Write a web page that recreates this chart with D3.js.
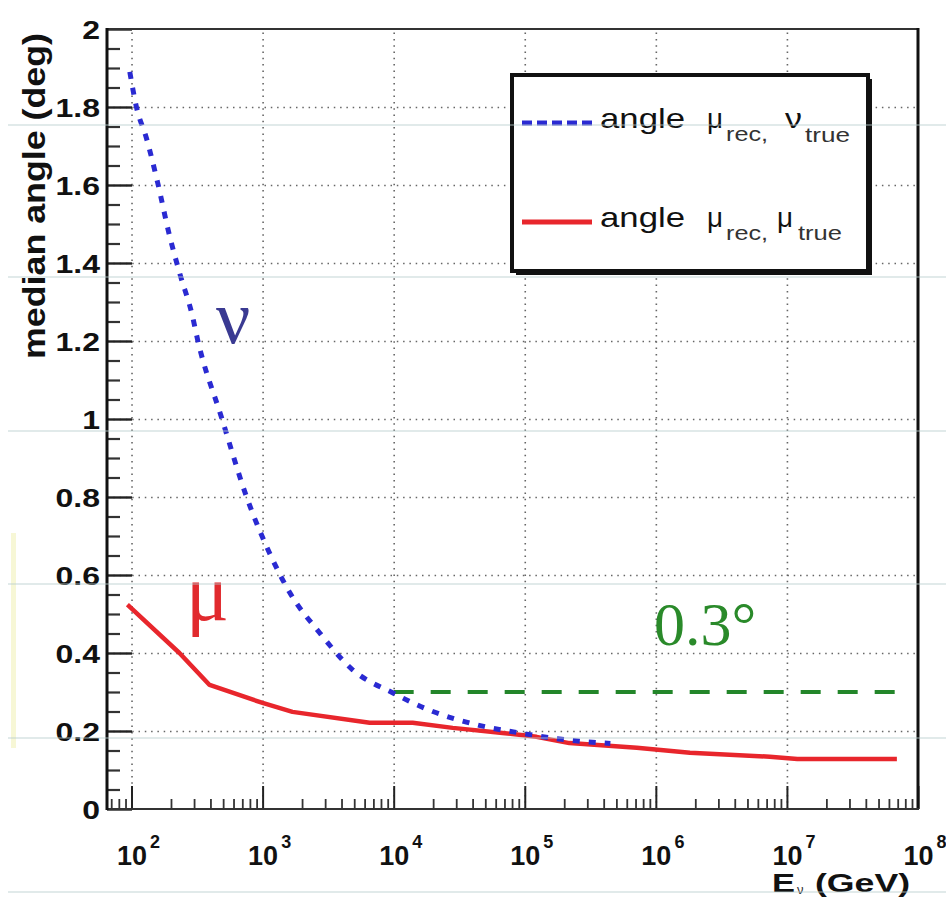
<!DOCTYPE html>
<html>
<head>
<meta charset="utf-8">
<script src="https://cdn.jsdelivr.net/npm/d3@7"></script>
<style>
  html, body { margin: 0; padding: 0; background: #ffffff; }
  svg { display: block; }
</style>
</head>
<body>
<svg id="chart" width="946" height="899"></svg>
<script>
// Median reconstructed angle vs neutrino energy
// nu curve: angle between reconstructed muon and true neutrino
const nuEnergy = [97, 109, 130, 158, 195, 232, 292, 319, 486, 755, 1190, 1610, 2720, 4860, 9800, 19900, 43000, 91600, 200000, 450000];
const nuAngle  = [1.89, 1.80, 1.72, 1.607, 1.47, 1.376, 1.263, 1.204, 1.004, 0.80, 0.64, 0.555, 0.452, 0.357, 0.298, 0.25, 0.216, 0.195, 0.178, 0.168];
// mu curve: angle between reconstructed muon and true muon
const muEnergy = [93, 232, 394, 1000, 1690, 6560, 13960, 28200, 67600, 123000, 219000, 716000, 1820000, 7400000, 12000000, 69000000];
const muAngle  = [0.524, 0.40, 0.318, 0.272, 0.249, 0.221, 0.221, 0.208, 0.195, 0.185, 0.169, 0.157, 0.144, 0.134, 0.128, 0.128];
// 0.3 degree reference level
const refEnergy = [10000, 77000000];
const refAngle  = [0.3, 0.3];

const xDecades = [2, 3, 4, 5, 6, 7, 8];
const yTickValues = [0, 0.2, 0.4, 0.6, 0.8, 1, 1.2, 1.4, 1.6, 1.8, 2];
const yTickLabels = ["0", "0.2", "0.4", "0.6", "0.8", "1", "1.2", "1.4", "1.6", "1.8", "2"];
const yGridValues = [0.2, 0.4, 0.6, 0.8, 1, 1.2, 1.4, 1.6, 1.8];

const svg = d3.select("#chart");
const frame = { left: 107, right: 918, top: 29, bottom: 809 };

const x = d3.scaleLog().domain([65, 1e8]).range([frame.left, frame.right]);
const y = d3.scaleLinear().domain([0, 2]).range([frame.bottom, frame.top]);

const bold = "'Liberation Sans', Arial, Helvetica, sans-serif";
const serif = "'Liberation Serif', 'Times New Roman', serif";

// faint yellow strip on the left margin
svg.append("rect").attr("x", 11).attr("y", 533).attr("width", 5).attr("height", 215)
  .attr("fill", "#f7f7d6");

// ---- dotted grid ----
const decadeVals = xDecades.slice(0, 6).map(e => Math.pow(10, e));
svg.append("g")
  .attr("transform", `translate(0,${frame.bottom})`)
  .call(d3.axisBottom(x).tickValues(decadeVals).tickSize(-(frame.bottom - frame.top)).tickFormat(""))
  .call(g => g.select(".domain").remove())
  .call(g => g.selectAll("line").attr("stroke", "#666").attr("stroke-width", 1.6).attr("stroke-dasharray", "1.5,4.8"));

svg.append("g")
  .attr("transform", `translate(${frame.left},0)`)
  .call(d3.axisLeft(y).tickValues(yGridValues).tickSize(-(frame.right - frame.left)).tickFormat(""))
  .call(g => g.select(".domain").remove())
  .call(g => g.selectAll("line").attr("stroke", "#666").attr("stroke-width", 1.6).attr("stroke-dasharray", "1.5,4.8"));

// ---- curves ----
const line = d3.line().x(d => x(d[0])).y(d => y(d[1])).curve(d3.curveLinear);

svg.append("path")
  .datum(d3.zip(refEnergy, refAngle))
  .attr("d", line)
  .attr("fill", "none").attr("stroke", "#23862a").attr("stroke-width", 4)
  .attr("stroke-dasharray", "20,17");

svg.append("path")
  .datum(d3.zip(muEnergy, muAngle))
  .attr("d", line)
  .attr("fill", "none").attr("stroke", "#e8262c").attr("stroke-width", 4.5)
  .attr("stroke-linejoin", "round");

svg.append("path")
  .datum(d3.zip(nuEnergy, nuAngle))
  .attr("d", d3.line().x(d => x(d[0])).y(d => y(d[1])).curve(d3.curveMonotoneX))
  .attr("fill", "none").attr("stroke", "#2a2ad2").attr("stroke-width", 5)
  .attr("stroke-dasharray", "7,9");

// ---- annotations ----
svg.append("text").attr("x", 216).attr("y", 343)
  .attr("font-family", serif).attr("font-size", 76).attr("fill", "#3a3a92")
  .text("ν");
svg.append("text").attr("x", 186).attr("y", 620)
  .attr("font-family", serif).attr("font-size", 80).attr("fill", "#e12a2e")
  .text("μ");
svg.append("text").attr("x", 654).attr("y", 645)
  .attr("font-family", serif).attr("font-size", 62).attr("fill", "#2a8a2a")
  .text("0.3°");

// ---- axes ----
// y axis: inward ticks, major every 0.2, minor every 0.05
const yMinor = d3.range(0, 2.0001, 0.05).filter(v => Math.abs(v * 5 - Math.round(v * 5)) > 1e-6);
svg.append("g")
  .attr("transform", `translate(${frame.left},0)`)
  .call(d3.axisLeft(y).tickValues(yMinor).tickSize(-13).tickFormat(""))
  .call(g => g.select(".domain").remove())
  .call(g => g.selectAll("line").attr("stroke", "#333").attr("stroke-width", 2.2));
svg.append("g")
  .attr("transform", `translate(${frame.left},0)`)
  .call(d3.axisLeft(y).tickValues(yTickValues).tickSize(-25).tickFormat(""))
  .call(g => g.select(".domain").remove())
  .call(g => g.selectAll("line").attr("stroke", "#222").attr("stroke-width", 2.4));

const yLab = svg.append("g")
  .attr("transform", `translate(${frame.left},0)`)
  .call(d3.axisLeft(y).tickValues(yTickValues).tickSize(0).tickFormat((d, i) => yTickLabels[i]));
yLab.select(".domain").remove();
yLab.selectAll("text")
  .attr("x", 0).attr("dy", "0.36em")
  .attr("transform", "translate(-7,0) scale(1.28,1)")
  .attr("font-family", bold).attr("font-weight", "bold").attr("font-size", 25)
  .attr("fill", "#111");

// x axis: ticks pointing up, major at decades, minor at 2..9
const xMinor = [];
for (let e = 1; e < 8; e++) {
  for (let m = 2; m <= 9; m++) {
    const v = m * Math.pow(10, e);
    if (v > 65 && v < 1e8) xMinor.push(v);
  }
}
svg.append("g")
  .attr("transform", `translate(0,${frame.bottom})`)
  .call(d3.axisBottom(x).tickValues(xMinor).tickSize(-10).tickFormat(""))
  .call(g => g.select(".domain").remove())
  .call(g => g.selectAll("line").attr("stroke", "#333").attr("stroke-width", 1.8));
const xMaj = svg.append("g")
  .attr("transform", `translate(0,${frame.bottom})`)
  .call(d3.axisBottom(x).tickValues(xDecades.map(e => Math.pow(10, e))).tickSize(-23).tickFormat(""));
xMaj.select(".domain").remove();
xMaj.selectAll("line").attr("stroke", "#222").attr("stroke-width", 2);

// "10" centred on the tick, exponent raised to its right
xMaj.selectAll(".tick").each(function (d, i) {
  const t = d3.select(this).append("text").attr("x", -15).attr("y", 56)
    .attr("text-anchor", "start")
    .attr("font-family", bold).attr("font-weight", "bold").attr("fill", "#111");
  t.append("tspan").attr("font-size", 27).text("10");
  t.append("tspan").attr("font-size", 18).attr("dx", 3).attr("dy", -17).text(String(xDecades[i]));
});

// frame
svg.append("line").attr("x1", frame.left).attr("x2", frame.right).attr("y1", frame.top).attr("y2", frame.top)
  .attr("stroke", "#333").attr("stroke-width", 2);
svg.append("line").attr("x1", frame.right).attr("x2", frame.right).attr("y1", frame.top - 1).attr("y2", frame.bottom)
  .attr("stroke", "#111").attr("stroke-width", 3);
svg.append("line").attr("x1", frame.left).attr("x2", frame.right + 1).attr("y1", frame.bottom).attr("y2", frame.bottom)
  .attr("stroke", "#333").attr("stroke-width", 2.2);
svg.append("line").attr("x1", frame.left).attr("x2", frame.left).attr("y1", frame.top - 1).attr("y2", frame.bottom + 1)
  .attr("stroke", "#111").attr("stroke-width", 3);

// axis titles
svg.append("text")
  .attr("transform", "translate(45,196) rotate(-90)")
  .attr("text-anchor", "middle")
  .attr("font-family", bold).attr("font-weight", "bold").attr("font-size", 31).attr("fill", "#111")
  .attr("textLength", 326).attr("lengthAdjust", "spacingAndGlyphs")
  .text("median angle (deg)");

svg.append("text").attr("x", 772).attr("y", 892)
  .attr("font-family", bold).attr("font-weight", "bold").attr("font-size", 26).attr("fill", "#111")
  .attr("textLength", 23).attr("lengthAdjust", "spacingAndGlyphs")
  .text("E");
svg.append("text").attr("x", 797).attr("y", 894)
  .attr("font-family", bold).attr("font-size", 13).attr("fill", "#333")
  .text("ν");
svg.append("text").attr("x", 815).attr("y", 892)
  .attr("font-family", bold).attr("font-weight", "bold").attr("font-size", 26).attr("fill", "#111")
  .attr("textLength", 95).attr("lengthAdjust", "spacingAndGlyphs")
  .text("(GeV)");

// ---- legend ----
const leg = { x: 512, y: 75, w: 356, h: 196 };
svg.append("rect").attr("x", leg.x + 4).attr("y", leg.y + 4).attr("width", leg.w).attr("height", leg.h)
  .attr("fill", "#111");
svg.append("rect").attr("x", leg.x).attr("y", leg.y).attr("width", leg.w).attr("height", leg.h)
  .attr("fill", "#ffffff").attr("stroke", "#111").attr("stroke-width", 4);

const legendRows = [
  { y: 123, base: 128, color: "#2a2ad2", dash: "10,5", width: 5,
    parts: [["angle", 600, 0, 28, 85, "#111"], ["μ", 707, 0, 28, 16, "#111"], ["rec,", 726, 13, 21, 42, "#333"],
            ["ν", 785, 0, 28, 17, "#111"], ["true", 805, 14, 21, 45, "#333"]] },
  { y: 222, base: 227, color: "#e8262c", dash: null, width: 5,
    parts: [["angle", 600, 0, 28, 85, "#111"], ["μ", 707, 0, 28, 16, "#111"], ["rec,", 726, 13, 21, 42, "#333"],
            ["μ", 777, 0, 28, 16, "#111"], ["true", 798, 13, 21, 44, "#333"]] }
];
legendRows.forEach(r => {
  svg.append("line").attr("x1", 522).attr("x2", 592).attr("y1", r.y).attr("y2", r.y)
    .attr("stroke", r.color).attr("stroke-width", r.width)
    .attr("stroke-dasharray", r.dash);
  r.parts.forEach(p => {
    svg.append("text").attr("x", p[1]).attr("y", r.base + p[2])
      .attr("font-family", bold).attr("font-size", p[3]).attr("fill", p[5])
      .attr("textLength", p[4]).attr("lengthAdjust", "spacingAndGlyphs")
      .text(p[0]);
  });
});

// faint horizontal scan lines across the whole figure
const scanRows = [125, 277, 431, 584, 738, 892];
svg.append("g").selectAll("line").data(scanRows).join("line")
  .attr("x1", 8).attr("x2", 946).attr("y1", d => d).attr("y2", d => d)
  .attr("stroke", "#b8cccc").attr("stroke-opacity", 0.55).attr("stroke-width", 1.5);
</script>
</body>
</html>
